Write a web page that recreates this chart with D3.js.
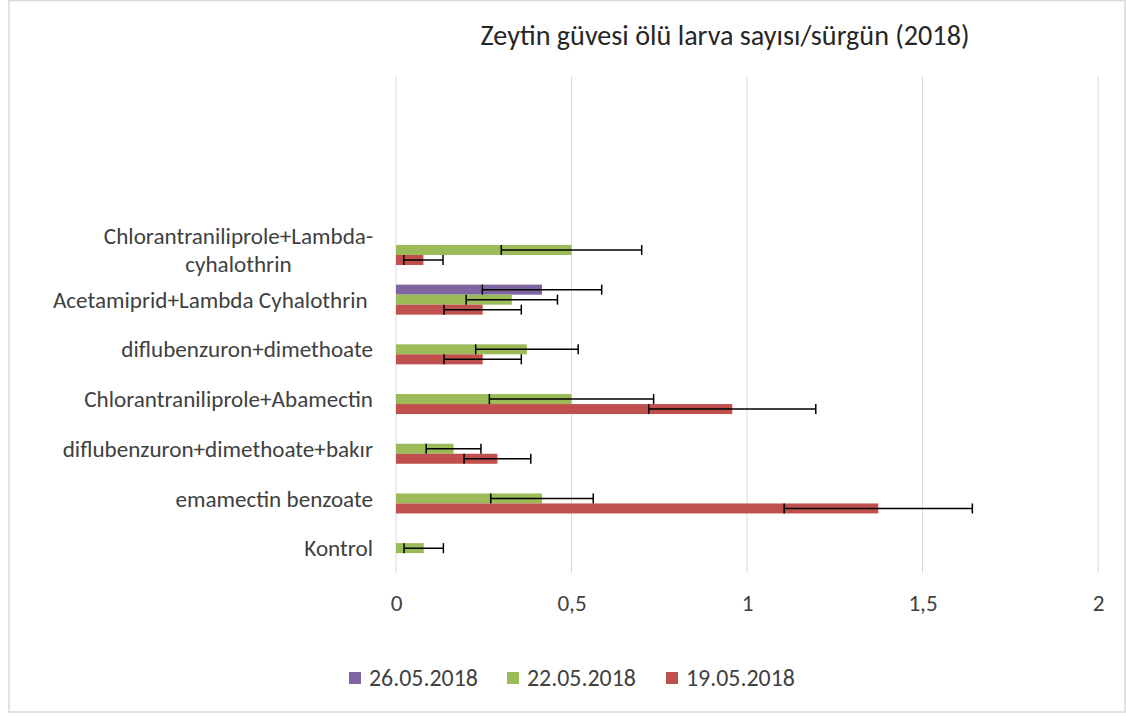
<!DOCTYPE html>
<html><head><meta charset="utf-8">
<script src="https://cdn.jsdelivr.net/npm/d3@7"></script>
<style>
html,body{margin:0;padding:0;background:#fff;}
svg{display:block;font-family:Carlito,Lato,"Open Sans",sans-serif;}
</style></head>
<body>
<script>
// ---- data ----
const categories = ["Kontrol", "emamectin benzoate", "diflubenzuron+dimethoate+bakır",
  "Chlorantraniliprole+Abamectin", "diflubenzuron+dimethoate",
  "Acetamiprid+Lambda Cyhalothrin ", "Chlorantraniliprole+Lambda-|cyhalothrin", "", "", ""];
const seriesNames = ["26.05.2018", "22.05.2018", "19.05.2018"];
const seriesColors = ["#8064A2", "#9BBB59", "#C0504D"];
const values26 = [0, 0, 0, 0, 0, 0.416, 0, null, null, null];
const errors26 = [0, 0, 0, 0, 0, 0.17, 0, null, null, null];
const values22 = [0.079, 0.416, 0.164, 0.5, 0.373, 0.33, 0.5, null, null, null];
const errors22 = [0.056, 0.146, 0.078, 0.234, 0.146, 0.13, 0.2, null, null, null];
const values19 = [0, 1.374, 0.289, 0.958, 0.247, 0.247, 0.078, null, null, null];
const errors19 = [0, 0.268, 0.095, 0.238, 0.11, 0.11, 0.056, null, null, null];
const xTicks = [0, 0.5, 1, 1.5, 2];
const title = "Zeytin güvesi ölü larva sayısı/sürgün (2018)";

const seriesVals = [values26, values22, values19];
const seriesErrs = [errors26, errors22, errors19];

const W = 1126, H = 716;
const svg = d3.select("body").append("svg").attr("width", W).attr("height", H);

// border
svg.append("rect").attr("x", 9).attr("y", 0.5).attr("width", W - 10).attr("height", H - 4.5)
  .attr("fill", "#fff").attr("stroke", "#d9d9d9").attr("stroke-width", 1.5);

const plot = {left: 396, right: 1098, top: 76, bottom: 573};
const x = d3.scaleLinear().domain([0, 2]).range([plot.left, plot.right]);
const y = d3.scaleBand().domain(d3.range(categories.length))
  .range([plot.bottom, plot.top]).paddingInner(0.396).paddingOuter(0.198);
const yInner = d3.scaleBand().domain(d3.range(seriesNames.length)).range([0, y.bandwidth()]);

const loc = d3.formatLocale({decimal: ",", thousands: ".", grouping: [3], currency: ["", ""]});
const fmt = loc.format("~g");

// font fitting helper
function fitSize(text, target, base) {
  const t = svg.append("text").attr("font-size", base).text(text);
  const w = t.node().getComputedTextLength();
  t.remove();
  return base * target / w;
}
const labelSize = fitSize("Acetamiprid+Lambda Cyhalothrin", 315, 20);
const titleSize = fitSize(title, 489, 22);
const legendSize = fitSize("26.05.2018", 109, 20);

// gridlines
svg.append("g").selectAll("line").data(xTicks).join("line")
  .attr("x1", d => x(d)).attr("x2", d => x(d))
  .attr("y1", plot.top).attr("y2", plot.bottom)
  .attr("stroke", "#d9d9d9").attr("stroke-width", 1);

// x axis labels
const xAxis = d3.axisBottom(x).tickValues(xTicks).tickFormat(fmt).tickSize(0).tickPadding(0);
const gx = svg.append("g").attr("transform", `translate(0,${plot.bottom + 38})`).call(xAxis);
gx.select(".domain").remove();
gx.selectAll("text").attr("font-size", labelSize).attr("fill", "#404040")
  .attr("font-family", "Carlito,Lato,'Open Sans',sans-serif").attr("dy", 0);

// bars
const groups = svg.append("g").selectAll("g").data(seriesNames).join("g")
  .attr("fill", (d, i) => seriesColors[i]);
groups.each(function(s, si) {
  const data = categories.map((c, ci) => ({ci, v: seriesVals[si][ci], e: seriesErrs[si][ci]}))
    .filter(d => d.v != null);
  const g = d3.select(this);
  g.selectAll("rect").data(data).join("rect")
    .attr("x", x(0))
    .attr("y", d => y(d.ci) + yInner(si))
    .attr("width", d => x(d.v) - x(0))
    .attr("height", yInner.bandwidth());
});

// error bars
const eg = svg.append("g").attr("stroke", "#000").attr("stroke-width", 1.5).attr("fill", "none");
seriesNames.forEach((s, si) => {
  categories.forEach((c, ci) => {
    const v = seriesVals[si][ci], e = seriesErrs[si][ci];
    if (v == null || !e) return;
    const cy = y(ci) + yInner(si) + yInner.bandwidth() / 2;
    const h = yInner.bandwidth() / 2;
    eg.append("line").attr("x1", x(v - e)).attr("x2", x(v + e)).attr("y1", cy).attr("y2", cy);
    eg.append("line").attr("x1", x(v - e)).attr("x2", x(v - e)).attr("y1", cy - h).attr("y2", cy + h);
    eg.append("line").attr("x1", x(v + e)).attr("x2", x(v + e)).attr("y1", cy - h).attr("y2", cy + h);
  });
});

// category labels
const labelRight = 373;
const lg = svg.append("g").attr("font-size", labelSize).attr("fill", "#404040");
categories.forEach((c, ci) => {
  if (!c) return;
  const lines = c.split("|");
  const cy = y(ci) + y.bandwidth() / 2;
  const lh = 28;
  const t = lg.append("text").attr("xml:space", "preserve");
  lines.forEach((ln, li) => {
    t.append("tspan").attr("x", 0).attr("y", cy + (li - (lines.length - 1) / 2) * lh).attr("dy", "0.35em").text(ln);
  });
  const tsp = t.selectAll("tspan").nodes();
  const widths = tsp.map(n => n.getComputedTextLength());
  const maxW = d3.max(widths);
  tsp.forEach((n, i) => d3.select(n).attr("x", labelRight - maxW + (maxW - widths[i]) / 2));
});

// title
svg.append("text").attr("x", 725).attr("y", 35).attr("dy", "0.35em")
  .attr("text-anchor", "middle").attr("font-size", titleSize).attr("fill", "#262626").text(title);

// legend
const legendX = [349, 507, 666];
const leg = svg.append("g");
seriesNames.forEach((s, i) => {
  leg.append("rect").attr("x", legendX[i]).attr("y", 672).attr("width", 12).attr("height", 12)
    .attr("fill", seriesColors[i]);
  leg.append("text").attr("x", legendX[i] + 20).attr("y", 678).attr("dy", "0.35em")
    .attr("font-size", legendSize).attr("fill", "#404040").text(s);
});
</script>
</body></html>
